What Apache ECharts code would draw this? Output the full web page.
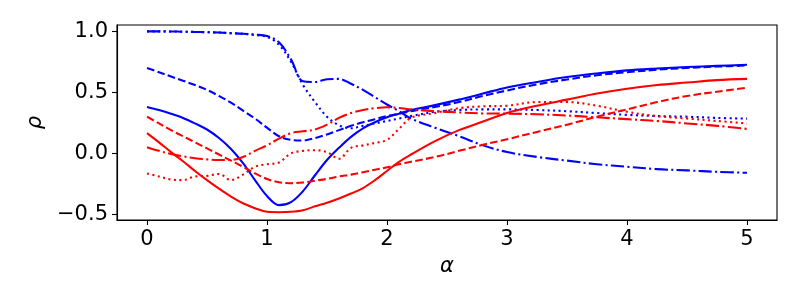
<!DOCTYPE html>
<html>
<head>
<meta charset="utf-8">
<script src="https://cdn.jsdelivr.net/npm/echarts@6/dist/echarts.min.js"></script>
<style>
html,body{margin:0;padding:0;background:#fff;}
#chart{width:800px;height:305px;}
</style>
</head>
<body>
<div id="chart"></div>
<script>
// shared alpha grid
var alpha = [0,0.1,0.2,0.3,0.4,0.5,0.6,0.7,0.8,0.9,1.0,1.1,1.2,1.3,1.4,1.5,1.6,1.7,1.8,1.9,2.0,2.1,2.2,2.4,2.6,2.8,3.0,3.25,3.5,3.75,4.0,4.25,4.5,4.75,5.0];

var blueSolid   = [0.38,0.355,0.325,0.29,0.245,0.195,0.125,0.035,-0.08,-0.22,-0.35,-0.425,-0.40,-0.31,-0.18,-0.055,0.045,0.135,0.205,0.255,0.295,0.325,0.355,0.395,0.44,0.49,0.54,0.585,0.625,0.655,0.68,0.695,0.707,0.717,0.726];
var blueDashed  = [0.70,0.665,0.63,0.595,0.56,0.52,0.47,0.415,0.35,0.285,0.21,0.14,0.11,0.105,0.125,0.155,0.19,0.225,0.255,0.28,0.305,0.325,0.345,0.38,0.42,0.47,0.515,0.565,0.605,0.64,0.665,0.685,0.70,0.711,0.72];
var blueDashDot = [1.0,1.0,0.999,0.997,0.995,0.993,0.99,0.985,0.98,0.973,0.962,0.91,0.77,0.59,0.585,0.607,0.61,0.57,0.52,0.46,0.40,0.345,0.285,0.21,0.14,0.065,0.01,-0.03,-0.06,-0.09,-0.11,-0.13,-0.14,-0.152,-0.16];
var blueDotted  = [1.0,1.0,0.999,0.997,0.995,0.993,0.99,0.985,0.98,0.97,0.955,0.89,0.75,0.56,0.42,0.30,0.23,0.205,0.225,0.245,0.265,0.285,0.305,0.34,0.355,0.36,0.36,0.355,0.345,0.33,0.315,0.305,0.30,0.29,0.284];
var redSolid    = [0.166,0.09,0.01,-0.065,-0.145,-0.22,-0.29,-0.355,-0.41,-0.45,-0.48,-0.483,-0.48,-0.467,-0.435,-0.405,-0.37,-0.33,-0.285,-0.22,-0.145,-0.07,-0.01,0.10,0.19,0.26,0.33,0.39,0.44,0.49,0.53,0.56,0.58,0.60,0.61];
var redDashed   = [0.30,0.245,0.19,0.14,0.09,0.04,-0.01,-0.06,-0.11,-0.165,-0.21,-0.238,-0.245,-0.24,-0.225,-0.21,-0.19,-0.175,-0.155,-0.135,-0.115,-0.09,-0.07,-0.03,0.02,0.07,0.115,0.175,0.235,0.30,0.36,0.42,0.47,0.505,0.537];
var redDashDot  = [0.05,0.02,-0.005,-0.025,-0.04,-0.05,-0.055,-0.055,-0.03,0.02,0.065,0.12,0.165,0.18,0.195,0.235,0.29,0.33,0.355,0.37,0.377,0.372,0.36,0.345,0.335,0.327,0.325,0.32,0.31,0.295,0.28,0.265,0.245,0.225,0.20];
var redDotted   = [-0.165,-0.19,-0.215,-0.22,-0.19,-0.185,-0.17,-0.22,-0.175,-0.11,-0.09,-0.075,0.0,0.02,0.025,0.01,-0.045,0.045,0.065,0.085,0.11,0.20,0.29,0.33,0.37,0.385,0.39,0.42,0.42,0.39,0.34,0.305,0.285,0.265,0.245];

var xTicks = [0,1,2,3,4,5];
var yTicks = [-0.5,0,0.5,1.0];

var LW = 2.08;
var dashed = [7.7,3.3];
var dashdot = [13.3,3.3,2.08,3.3];
var dotted = [2.08,3.44];

function pairs(ys){ return alpha.map(function(a,i){ return [a, ys[i]]; }); }
function mk(name, ys, color, type){
  return {
    name: name, type: 'line', data: pairs(ys), showSymbol: false, symbol: 'none',
    smooth: 0.35,
    lineStyle: {color: color, width: LW, type: type, cap: 'butt', join: 'round'},
    animation: false, silent: true
  };
}

var font = 'DejaVu Sans';
var chart = echarts.init(document.getElementById('chart'), null, {renderer: 'canvas'});
chart.setOption({
  animation: false,
  backgroundColor: '#fff',
  grid: {left: 117, top: 25, width: 660, height: 195, show: true, borderColor: '#000', borderWidth: 1.1, containLabel: false},
  xAxis: {
    type: 'value', min: -0.25, max: 5.25, position: 'bottom',
    name: 'α', nameLocation: 'middle', nameGap: 36,
    nameTextStyle: {fontFamily: font, fontStyle: 'italic', fontSize: 21, color: '#000'},
    axisLine: {show: true, onZero: false, lineStyle: {color: '#000', width: 1.1}},
    splitLine: {show: false},
    axisTick: {show: true, inside: false, customValues: xTicks, length: 5, lineStyle: {color: '#000', width: 1.1}},
    axisLabel: {customValues: xTicks, fontFamily: font, fontSize: 21, color: '#000', margin: 9,
      formatter: function(v){ return String(v); }}
  },
  yAxis: {
    type: 'value', min: -0.547, max: 1.052, position: 'left',
    name: 'ρ', nameLocation: 'middle', nameGap: 70,
    nameTextStyle: {fontFamily: font, fontStyle: 'italic', fontSize: 21, color: '#000'},
    axisLine: {show: true, onZero: false, lineStyle: {color: '#000', width: 1.1}},
    splitLine: {show: false},
    axisTick: {show: true, inside: false, customValues: yTicks, length: 5, lineStyle: {color: '#000', width: 1.1}},
    axisLabel: {customValues: yTicks, fontFamily: font, fontSize: 21, color: '#000', margin: 9,
      formatter: function(v){ return v.toFixed(1).replace('-', '\u2212'); }}
  },
  series: [
    mk('blueSolid', blueSolid, '#0000ff', 'solid'),
    mk('blueDashed', blueDashed, '#0000ff', dashed),
    mk('blueDashDot', blueDashDot, '#0000ff', dashdot),
    mk('blueDotted', blueDotted, '#0000ff', dotted),
    mk('redSolid', redSolid, '#ff0000', 'solid'),
    mk('redDashed', redDashed, '#ff0000', dashed),
    mk('redDashDot', redDashDot, '#ff0000', dashdot),
    mk('redDotted', redDotted, '#ff0000', dotted)
  ]
});
</script>
</body>
</html>
